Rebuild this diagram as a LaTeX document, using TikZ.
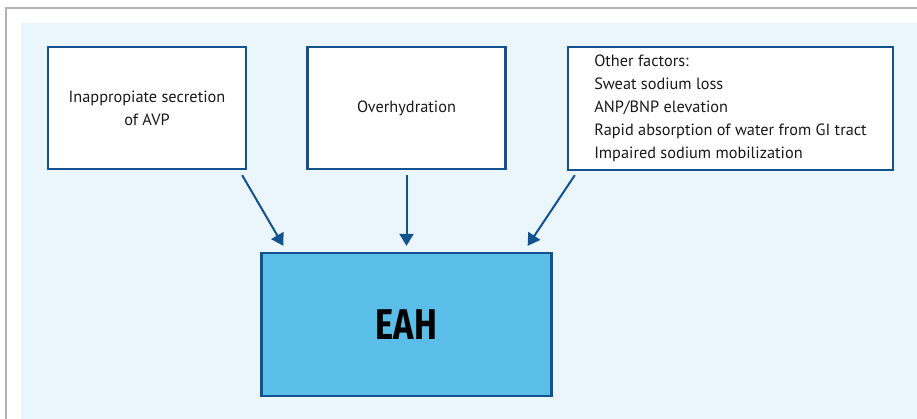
\documentclass[tikz,border=0pt]{standalone}
\usepackage{fontspec}
\setmainfont{PT Sans}
\newfontfamily\titlefont[FakeStretch=0.8]{Fira Sans}
\usepackage{tikz}
\usetikzlibrary{arrows.meta,positioning}
\definecolor{FigureInk}{HTML}{1A1A1A}
\definecolor{FrameGray}{HTML}{B2B2B2}
\definecolor{PanelFill}{HTML}{EAF5FC}
\definecolor{LineBlue}{HTML}{12528F}
\definecolor{EahFill}{HTML}{5BBEE9}
\tikzset{
  figure/.style={text=FigureInk,font=\fontsize{16.3}{23}\selectfont},
  cause/.style={draw=LineBlue,line width=2.3pt,fill=white,align=center,inner sep=0pt},
  result/.style={draw=LineBlue,line width=2.3pt,fill=EahFill,inner sep=0pt,
    font=\titlefont\bfseries\fontsize{43}{43}\selectfont,text=black},
  flow/.style={-{Triangle[length=12pt,width=14pt]},line width=2pt,draw=LineBlue},
}

\begin{document}
\begin{tikzpicture}[figure,x=1pt,y=-1pt]
  \useasboundingbox (0,0) rectangle (917,419);
  \fill[PanelFill] (21,23) rectangle (917,419);
  \draw[FrameGray,line width=2pt] (917,8.5) -- (5.5,8.5) -- (5.5,419);

  \node[cause,minimum width=198pt,minimum height=122pt] (avp) at (147,108)
    {Inappropiate secretion\\of AVP};
  \node[cause,minimum width=198pt,minimum height=122pt] (over) at (406.5,108)
    {Overhydration};
  \node[cause,align=left,minimum width=325pt,minimum height=123pt] (other) at (730.5,108.5)
    {Other factors:\\Sweat sodium loss\\ANP/BNP elevation\\
     Rapid absorption of water from GI tract\\Impaired sodium mobilization};

  \node[result,minimum width=290pt,minimum height=143pt] (eah) at (406.5,324.5) {EAH};

  \draw[flow] ([xshift=-5pt,yshift=-5pt]avp.south east)
    -- ([xshift=23pt,yshift=6pt]eah.north west);
  \draw[flow] ([yshift=-5pt]over.south) -- ([yshift=6pt]eah.north);
  \draw[flow] ([xshift=8pt,yshift=-4pt]other.south west)
    -- ([xshift=-25pt,yshift=6pt]eah.north east);
\end{tikzpicture}
\end{document}
